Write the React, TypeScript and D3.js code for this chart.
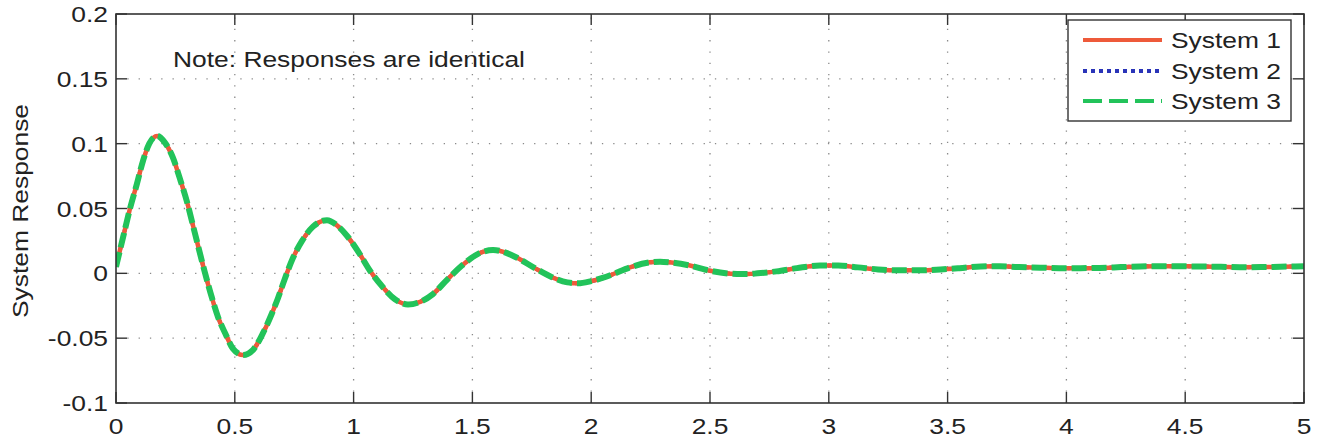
import React from "react";
import * as d3 from "d3";

const timeSamples = [
  0, 0.03, 0.059, 0.088, 0.114, 0.14, 0.173, 0.205, 0.24, 0.269, 0.299, 0.332, 0.375,
  0.404, 0.43, 0.459, 0.492, 0.535, 0.577, 0.619, 0.656, 0.682, 0.711, 0.745, 0.783,
  0.829, 0.888, 0.93, 0.972, 1.022, 1.069, 1.12, 1.174, 1.229, 1.28, 1.334, 1.393,
  1.456, 1.524, 1.587, 1.64, 1.688, 1.763, 1.835, 1.9, 1.945, 2.0, 2.08, 2.163, 2.247,
  2.29, 2.33, 2.416, 2.5, 2.614, 2.66, 2.7, 2.78, 2.866, 2.963, 3.04, 3.123, 3.207,
  3.3, 3.384, 3.47, 3.55, 3.64, 3.72, 3.8, 3.89, 3.97, 4.06, 4.14, 4.23, 4.31, 4.39,
  4.48, 4.56, 4.65, 4.73, 4.82, 4.9, 5.0,
];

const responseSamples = [
  0.005, 0.028, 0.05, 0.069, 0.087, 0.1, 0.106, 0.101, 0.089, 0.073, 0.055, 0.031, 0.0,
  -0.019, -0.034, -0.046, -0.058, -0.063, -0.059, -0.046, -0.031, -0.019, -0.004, 0.012,
  0.025, 0.036, 0.041, 0.037, 0.029, 0.016, 0.002, -0.01, -0.02, -0.024, -0.022, -0.016,
  -0.005, 0.006, 0.015, 0.018, 0.016, 0.012, 0.004, -0.003, -0.007, -0.0077, -0.006,
  -0.0015, 0.0046, 0.0085, 0.009, 0.0085, 0.006, 0.002, -0.0005, -0.0006, 0, 0.0015,
  0.004, 0.006, 0.006, 0.0046, 0.003, 0.0023, 0.0023, 0.003, 0.004, 0.0053, 0.0055,
  0.0048, 0.0044, 0.004, 0.004, 0.0042, 0.0048, 0.0053, 0.0055, 0.0054, 0.0053, 0.005,
  0.0047, 0.0048, 0.0051, 0.0054,
];

const seriesNames = ["System 1", "System 2", "System 3"];
const seriesColors = ["#ee5a3a", "#2a34b8", "#22c35a"];

const xTickValues = [0, 0.5, 1, 1.5, 2, 2.5, 3, 3.5, 4, 4.5, 5];
const xTickLabels = ["0", "0.5", "1", "1.5", "2", "2.5", "3", "3.5", "4", "4.5", "5"];
const yTickValues = [-0.1, -0.05, 0, 0.05, 0.1, 0.15, 0.2];
const yTickLabels = ["-0.1", "-0.05", "0", "0.05", "0.1", "0.15", "0.2"];

const noteText = "Note: Responses are identical";
const yAxisLabel = "System Response";

const W = 1326;
const H = 442;
const FONT = "'Liberation Sans', Arial, sans-serif";
const FS = 22;
const SX = 1.2;

export default function App() {
  const x = d3.scaleLinear().domain([0, 5]).range([116, 1304]);
  const y = d3.scaleLinear().domain([-0.1, 0.2]).range([403, 14]);
  const [x0, x1] = x.range();
  const [y0, y1] = y.range();

  const pts: [number, number][] = timeSamples.map((t, i) => [t, responseSamples[i]]);
  const line = d3
    .line<[number, number]>()
    .x((d) => x(d[0]))
    .y((d) => y(d[1]))
    .curve(d3.curveMonotoneX);
  const path = line(pts) || "";

  const tickLen = 11;
  const axisColor = "#333";
  const gridColor = "#8a8a8a";

  const stretchedText = (
    key: string,
    tx: number,
    ty: number,
    text: string,
    anchor: "start" | "middle" | "end",
    extra?: string
  ) => (
    <text
      key={key}
      transform={`translate(${tx},${ty}) ${extra || ""} scale(${SX},1)`}
      textAnchor={anchor}
      fontFamily={FONT}
      fontSize={FS}
      fill="#222"
    >
      {text}
    </text>
  );

  const legendX0 = 1068;
  const legendY0 = 20;
  const legendW = 223;
  const legendH = 101;
  const legendRows = [40, 71, 101];

  return (
    <svg
      width={W}
      height={H}
      style={{ position: "absolute", left: 0, top: 0, background: "#fff" }}
    >
      <rect x={0} y={0} width={W} height={H} fill="#fff" />
      <defs>
        <clipPath id="plotClip">
          <rect x={x0} y={y1} width={x1 - x0} height={y0 - y1} />
        </clipPath>
      </defs>

      {/* grid */}
      {xTickValues.slice(1, -1).map((v) => (
        <line
          key={"gx" + v}
          x1={x(v)}
          x2={x(v)}
          y1={y0}
          y2={y1}
          stroke={gridColor}
          strokeWidth={1.3}
          strokeDasharray="1.3,10"
        />
      ))}
      {yTickValues.slice(1, -1).map((v) => (
        <line
          key={"gy" + v}
          x1={x0}
          x2={x1}
          y1={y(v)}
          y2={y(v)}
          stroke={gridColor}
          strokeWidth={1.3}
          strokeDasharray="1.3,10"
        />
      ))}

      {/* curves */}
      <g clipPath="url(#plotClip)">
        <path d={path} fill="none" stroke={seriesColors[1]} strokeWidth={4} strokeDasharray="3,3" />
        <path d={path} fill="none" stroke={seriesColors[0]} strokeWidth={4.5} />
        <path
          d={path}
          fill="none"
          stroke={seriesColors[2]}
          strokeWidth={6}
          strokeDasharray="15,5"
        />
      </g>

      {/* axes box */}
      <rect
        x={x0}
        y={y1}
        width={x1 - x0}
        height={y0 - y1}
        fill="none"
        stroke={axisColor}
        strokeWidth={1.6}
      />

      {/* ticks */}
      {xTickValues.map((v) => (
        <g key={"tx" + v}>
          <line x1={x(v)} x2={x(v)} y1={y0} y2={y0 - tickLen} stroke={axisColor} strokeWidth={1.4} />
          <line x1={x(v)} x2={x(v)} y1={y1} y2={y1 + tickLen} stroke={axisColor} strokeWidth={1.4} />
        </g>
      ))}
      {yTickValues.map((v) => (
        <g key={"ty" + v}>
          <line x1={x0} x2={x0 + tickLen} y1={y(v)} y2={y(v)} stroke={axisColor} strokeWidth={1.4} />
          <line x1={x1} x2={x1 - tickLen} y1={y(v)} y2={y(v)} stroke={axisColor} strokeWidth={1.4} />
        </g>
      ))}

      {/* tick labels */}
      {xTickValues.map((v, i) => stretchedText("xl" + v, x(v), 434, xTickLabels[i], "middle"))}
      {yTickValues.map((v, i) => stretchedText("yl" + v, 108, y(v) + 8, yTickLabels[i], "end"))}

      {/* y label */}
      {stretchedText("ylab", 28, 211, yAxisLabel, "middle", "rotate(-90)")}

      {/* note */}
      {stretchedText("note", 173, 67, noteText, "start")}

      {/* legend */}
      <rect
        x={legendX0}
        y={legendY0}
        width={legendW}
        height={legendH}
        fill="#fff"
        stroke={axisColor}
        strokeWidth={1.4}
      />
      {seriesNames.map((name, i) => {
        const ly = legendRows[i];
        const dash = i === 0 ? undefined : i === 1 ? "4,4" : "19,7";
        return (
          <g key={name}>
            <line
              x1={1083}
              x2={1162}
              y1={ly}
              y2={ly}
              stroke={seriesColors[i]}
              strokeWidth={4}
              strokeDasharray={dash}
            />
            {stretchedText("lg" + i, 1171, ly + 8, name, "start")}
          </g>
        );
      })}
    </svg>
  );
}
